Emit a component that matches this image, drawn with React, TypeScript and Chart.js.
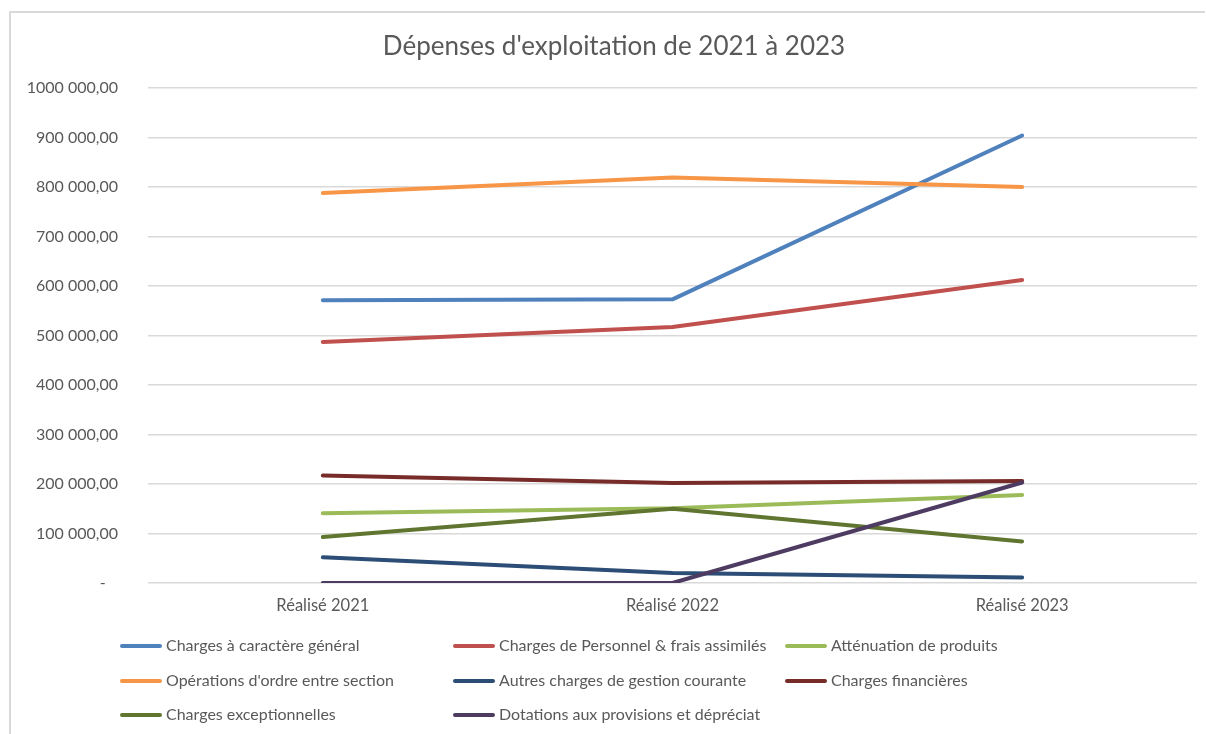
import React, { useEffect, useRef } from "react";
import { Chart, registerables } from "chart.js";

Chart.register(...registerables);

const chartTitle = "Dépenses d'exploitation de 2021 à 2023";

const categories = ["Réalisé 2021", "Réalisé 2022", "Réalisé 2023"];

const seriesNames = [
  "Charges à caractère général",
  "Charges de Personnel & frais assimilés",
  "Atténuation de produits",
  "Opérations d'ordre entre section",
  "Autres charges de gestion courante",
  "Charges financières",
  "Charges exceptionnelles",
  "Dotations aux provisions et dépréciat",
];

const chargesGenerales = [571000, 573000, 904000];
const chargesPersonnel = [487000, 517000, 612000];
const attenuationProduits = [141000, 151000, 178000];
const operationsOrdre = [788000, 819000, 800000];
const autresCharges = [52000, 20000, 11000];
const chargesFinancieres = [217000, 202000, 206000];
const chargesExceptionnelles = [93000, 150000, 84000];
const dotationsProvisions = [0, 0, 203000];

const seriesValues = [
  chargesGenerales,
  chargesPersonnel,
  attenuationProduits,
  operationsOrdre,
  autresCharges,
  chargesFinancieres,
  chargesExceptionnelles,
  dotationsProvisions,
];

const seriesColors = [
  "#4F81BD",
  "#C0504D",
  "#9BBB59",
  "#F79646",
  "#2C4D75",
  "#772C2A",
  "#5F7530",
  "#4D3B62",
];

const yTickLabels = [
  "-\u00a0\u00a0\u00a0",
  "100 000,00",
  "200 000,00",
  "300 000,00",
  "400 000,00",
  "500 000,00",
  "600 000,00",
  "700 000,00",
  "800 000,00",
  "900 000,00",
  "1000 000,00",
];

const FONT = "Lato, 'Open Sans', sans-serif";
const TEXT = "#595959";

const framePlugin = {
  id: "frame",
  beforeDraw(chart: any) {
    const ctx = chart.ctx;
    ctx.save();
    ctx.fillStyle = "#ffffff";
    ctx.fillRect(0, 0, chart.width, chart.height);
    ctx.strokeStyle = "#d9d9d9";
    ctx.lineWidth = 2;
    ctx.beginPath();
    ctx.moveTo(10, chart.height);
    ctx.lineTo(10, 12);
    ctx.lineTo(1205, 12);
    ctx.stroke();
    ctx.font = `26px ${FONT}`;
    ctx.fillStyle = TEXT;
    ctx.textAlign = "center";
    ctx.textBaseline = "middle";
    ctx.fillText(chartTitle, 614, 47);
    ctx.restore();
  },
};

const gridLegendPlugin = {
  id: "gridLegend",
  afterDraw(chart: any) {
    const ctx = chart.ctx;
    const bottom = chart.chartArea.bottom;
    const colX = [120, 453, 785];
    const rowY = [bottom + 63, bottom + 98, bottom + 132];
    ctx.save();
    ctx.font = `16px ${FONT}`;
    ctx.textBaseline = "middle";
    ctx.textAlign = "left";
    chart.data.datasets.forEach((ds: any, i: number) => {
      const c = i % 3;
      const r = Math.floor(i / 3);
      const x = colX[c];
      const y = rowY[r];
      ctx.strokeStyle = ds.borderColor;
      ctx.lineWidth = 4;
      ctx.lineCap = "round";
      ctx.beginPath();
      ctx.moveTo(x + 2, y);
      ctx.lineTo(x + 40, y);
      ctx.stroke();
      ctx.fillStyle = TEXT;
      ctx.fillText(ds.label, x + 46, y);
    });
    ctx.restore();
  },
};

export default function App() {
  const ref = useRef<HTMLCanvasElement | null>(null);

  useEffect(() => {
    if (!ref.current) return;
    const chart = new Chart(ref.current, {
      type: "line",
      data: {
        labels: categories,
        datasets: seriesNames.map((name, i) => ({
          label: name,
          data: seriesValues[i],
          borderColor: seriesColors[i],
          backgroundColor: seriesColors[i],
          borderWidth: 4,
          pointRadius: 0,
          pointHoverRadius: 0,
          tension: 0,
          borderCapStyle: "round" as const,
          borderJoinStyle: "round" as const,
          fill: false,
          order: -i,
        })),
      },
      options: {
        responsive: false,
        animation: false,
        layout: { padding: { left: 0, right: 9, top: 88, bottom: 111 } },
        plugins: {
          legend: { display: false },
          tooltip: { enabled: false },
          title: { display: false },
        },
        scales: {
          x: {
            offset: true,
            grid: { display: false, drawTicks: false },
            border: { display: false },
            ticks: {
              color: TEXT,
              font: { family: FONT, size: 16.5 },
              padding: 13,
              maxRotation: 0,
            },
            afterFit(scale: any) {
              scale.height = 40;
            },
          },
          y: {
            min: 0,
            max: 1000000,
            grid: { color: "#d9d9d9", lineWidth: 1.5, drawTicks: false },
            border: { display: false },
            ticks: {
              stepSize: 100000,
              color: TEXT,
              font: { family: FONT, size: 16 },
              padding: 30,
              callback: (v: any) => yTickLabels[Math.round(Number(v) / 100000)],
            },
            afterFit(scale: any) {
              scale.width = 148;
            },
          },
        },
      },
      plugins: [framePlugin, gridLegendPlugin],
    });
    return () => chart.destroy();
  }, []);

  return (
    <div style={{ position: "fixed", left: 0, top: 0, width: 1206, height: 734 }}>
      <canvas ref={ref} width={1206} height={734} style={{ display: "block" }} />
    </div>
  );
}
